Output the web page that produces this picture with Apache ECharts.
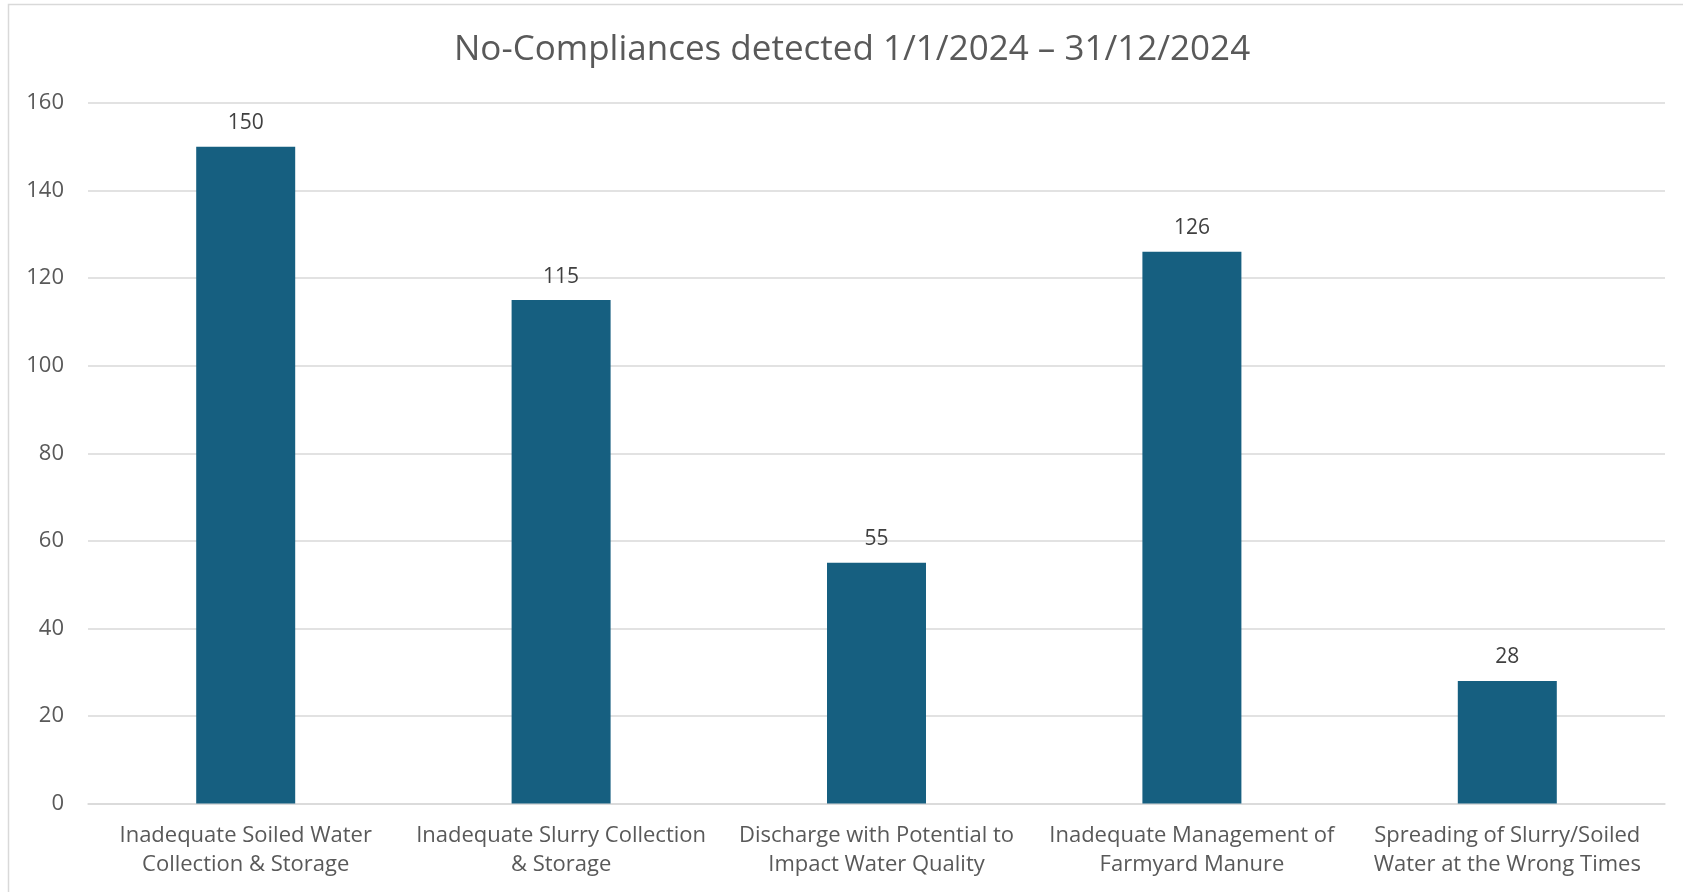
<!DOCTYPE html>
<html>
<head>
<meta charset="utf-8">
<script src="https://cdn.jsdelivr.net/npm/echarts@6/dist/echarts.min.js"></script>
<style>
html,body{margin:0;padding:0;background:#fff;}
#chart{width:1683px;height:892px;}
</style>
</head>
<body>
<div id="chart"></div>
<script>
const titleText = 'No-Compliances detected 1/1/2024 \u2013 31/12/2024';
const categories = [
  'Inadequate Soiled Water\nCollection & Storage',
  'Inadequate Slurry Collection\n& Storage',
  'Discharge with Potential to\nImpact Water Quality',
  'Inadequate Management of\nFarmyard Manure',
  'Spreading of Slurry/Soiled\nWater at the Wrong Times'
];
const values = [150, 115, 55, 126, 28];
const yTicks = [0, 20, 40, 60, 80, 100, 120, 140, 160];

const FONT = 'Open Sans';
const chart = echarts.init(document.getElementById('chart'));
chart.setOption({
  backgroundColor: '#ffffff',
  animation: false,
  graphic: [{
    type: 'rect',
    shape: {x: 8.5, y: 4.5, width: 1700, height: 900},
    style: {fill: 'none', stroke: '#d9d9d9', lineWidth: 1.5},
    silent: true
  }],
  title: {
    text: titleText,
    left: 449,
    top: 28,
    textStyle: {fontFamily: FONT, fontSize: 35, fontWeight: 'normal', color: '#595959'}
  },
  grid: {left: 88, right: 18, top: 103, bottom: 88.5, containLabel: false},
  xAxis: {
    type: 'category',
    data: categories,
    axisLine: {lineStyle: {color: '#d9d9d9', width: 1.5}},
    axisTick: {show: false},
    axisLabel: {
      interval: 0, margin: 18, fontFamily: FONT, fontSize: 22, lineHeight: 29, color: '#595959'
    }
  },
  yAxis: {
    type: 'value',
    min: yTicks[0],
    max: yTicks[yTicks.length - 1],
    interval: yTicks[1] - yTicks[0],
    axisLine: {show: false},
    axisTick: {show: false},
    splitLine: {lineStyle: {color: '#d9d9d9', width: 1.5}},
    axisLabel: {margin: 24, fontFamily: FONT, fontSize: 22, color: '#595959'}
  },
  series: [{
    type: 'bar',
    data: values,
    barWidth: 99,
    itemStyle: {color: '#165f80'},
    label: {
      show: true, position: 'top', distance: 13,
      fontFamily: FONT, fontSize: 21, color: '#404040'
    }
  }]
});
</script>
</body>
</html>
